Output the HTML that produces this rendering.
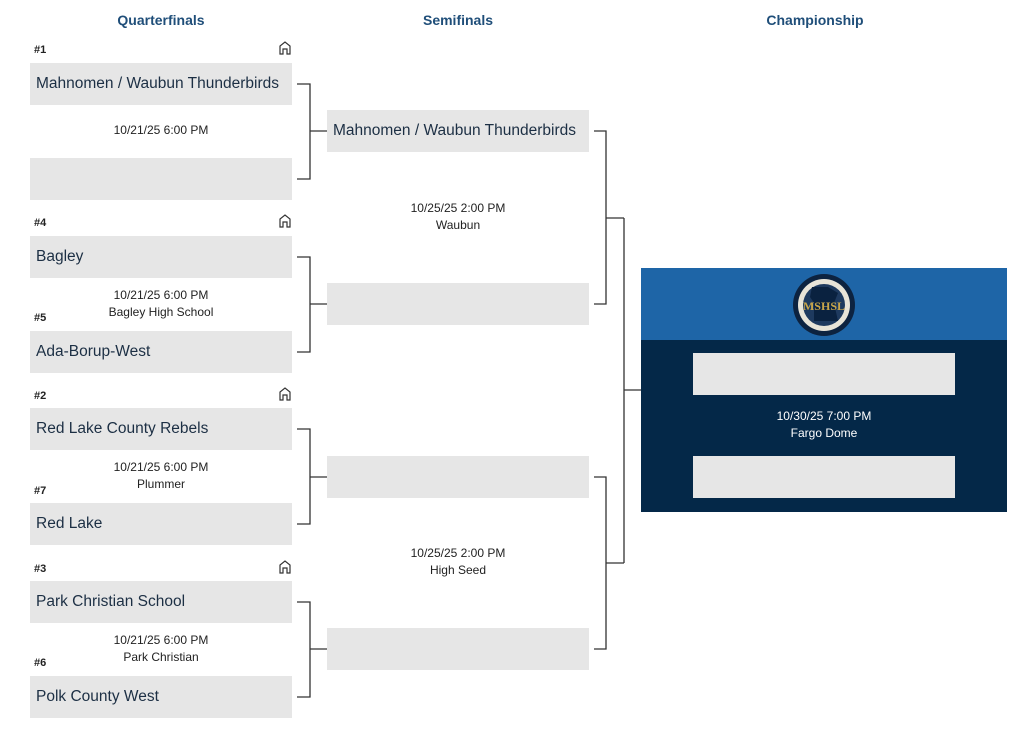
<!DOCTYPE html>
<html><head><meta charset="utf-8"><style>
body{margin:0;width:1024px;height:748px;background:#fff;position:relative;overflow:hidden;font-family:"Liberation Sans",Arial,sans-serif}
.a{position:absolute}
.h{color:#1f4e79;font-weight:bold;font-size:14px;text-align:center;width:300px;top:12px}
.box{position:absolute;background:#e6e6e6;height:42px;color:#1c2f44;font-size:15.5px;line-height:42px;padding-left:6px;box-sizing:border-box;white-space:nowrap}
.q{left:30px;width:262px}
.s{left:327px;width:262px}
.seed{position:absolute;left:34px;font-size:11px;font-weight:bold;color:#222}
.t{position:absolute;text-align:center;font-size:12px;color:#222;line-height:17px;width:262px}
.ln{position:absolute;background:#333}
.home{position:absolute;left:278px}
</style></head><body>
<div class="a h" style="left:11px">Quarterfinals</div>
<div class="a h" style="left:308px">Semifinals</div>
<div class="a h" style="left:665px">Championship</div>

<div class="seed" style="top:44px">#1</div>
<div class="box q" style="top:63px">Mahnomen / Waubun Thunderbirds</div>
<div class="t" style="left:30px;top:122px">10/21/25 6:00 PM</div>
<div class="box q" style="top:158px"></div>

<div class="seed" style="top:217px">#4</div>
<div class="box q" style="top:236px">Bagley</div>
<div class="t" style="left:30px;top:287px">10/21/25 6:00 PM<br>Bagley High School</div>
<div class="seed" style="top:312px">#5</div>
<div class="box q" style="top:331px">Ada-Borup-West</div>

<div class="seed" style="top:390px">#2</div>
<div class="box q" style="top:408px">Red Lake County Rebels</div>
<div class="t" style="left:30px;top:459px">10/21/25 6:00 PM<br>Plummer</div>
<div class="seed" style="top:485px">#7</div>
<div class="box q" style="top:503px">Red Lake</div>

<div class="seed" style="top:563px">#3</div>
<div class="box q" style="top:581px">Park Christian School</div>
<div class="t" style="left:30px;top:632px">10/21/25 6:00 PM<br>Park Christian</div>
<div class="seed" style="top:657px">#6</div>
<div class="box q" style="top:676px">Polk County West</div>

<svg class="home" style="top:40px" width="14" height="16" viewBox="0 0 14 16"><path d="M2 14V6L7 2l5 4v8h-3V9H5v5z" fill="none" stroke="#333" stroke-width="1.2"/></svg>
<svg class="home" style="top:213px" width="14" height="16" viewBox="0 0 14 16"><path d="M2 14V6L7 2l5 4v8h-3V9H5v5z" fill="none" stroke="#333" stroke-width="1.2"/></svg>
<svg class="home" style="top:386px" width="14" height="16" viewBox="0 0 14 16"><path d="M2 14V6L7 2l5 4v8h-3V9H5v5z" fill="none" stroke="#333" stroke-width="1.2"/></svg>
<svg class="home" style="top:559px" width="14" height="16" viewBox="0 0 14 16"><path d="M2 14V6L7 2l5 4v8h-3V9H5v5z" fill="none" stroke="#333" stroke-width="1.2"/></svg>

<div class="box s" style="top:110px">Mahnomen / Waubun Thunderbirds</div>
<div class="t" style="left:327px;top:200px">10/25/25 2:00 PM<br>Waubun</div>
<div class="box s" style="top:283px"></div>
<div class="box s" style="top:456px"></div>
<div class="t" style="left:327px;top:545px">10/25/25 2:00 PM<br>High Seed</div>
<div class="box s" style="top:628px"></div>

<svg class="a" style="left:0;top:0" width="1024" height="748">
<g fill="none" stroke="#333" stroke-width="1.3">
<path d="M297 84H310V179H297M310 131H327"/>
<path d="M297 257H310V352H297M310 304H327"/>
<path d="M297 429H310V524H297M310 477H327"/>
<path d="M297 602H310V697H297M310 649H327"/>
<path d="M594 131H606V304H594M606 218H624"/>
<path d="M594 477H606V649H594M606 563H624"/>
<path d="M624 218V563M624 390H641"/>
</g>
</svg>

<div class="a" style="left:641px;top:268px;width:366px;height:72px;background:#1e65a7"></div>
<div class="a" style="left:641px;top:340px;width:366px;height:172px;background:#042848"></div>
<svg class="a" style="left:792px;top:273px" width="64" height="64" viewBox="0 0 64 64">
<circle cx="32" cy="32" r="31" fill="#0d2340"/><circle cx="32" cy="32" r="26" fill="#e8e4d8"/><circle cx="32" cy="32" r="21" fill="#1e3a5f"/>
<path d="M20 14h16l10 6-4 10 4 18H22V30l-4-6z" fill="#0a2240"/>
<text x="32" y="37" font-size="12" font-family="Liberation Serif" fill="#c9a64a" text-anchor="middle" font-weight="bold">MSHSL</text>
</svg>
<div class="a" style="left:693px;top:353px;width:262px;height:42px;background:#e6e6e6"></div>
<div class="t" style="left:693px;top:408px;color:#fff">10/30/25 7:00 PM<br>Fargo Dome</div>
<div class="a" style="left:693px;top:456px;width:262px;height:42px;background:#e6e6e6"></div>
</body></html>
